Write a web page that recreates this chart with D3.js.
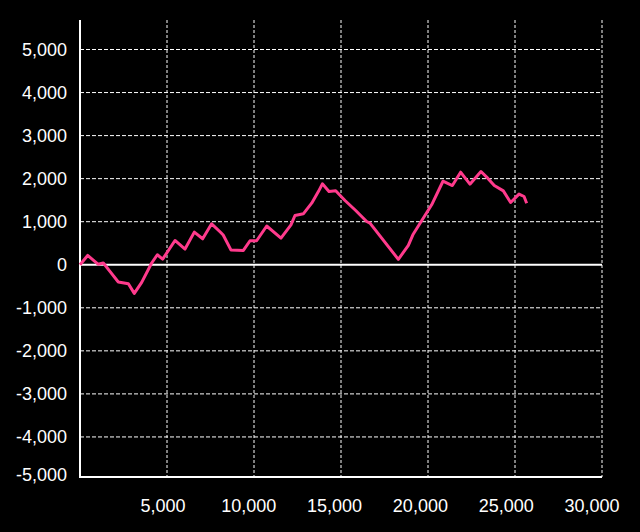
<!DOCTYPE html>
<meta charset="utf-8">
<style>
    body { margin: 0; background: #000; }
    svg { display: block; }
    text { font-family: "Liberation Sans", Arial, sans-serif; font-size: 18px; fill: #fff; }
</style>
<body>
<script src="https://d3js.org/d3.v7.min.js"></script>
<script>

var xValues = [0, 440, 1050, 1340, 1720, 2200, 2780, 3120, 3545, 4120, 4445, 4750, 5460, 6035, 6570, 7050,
               7565, 8060, 8230, 8680, 9390, 9770, 10150, 10730, 11550, 12125, 12355, 12835, 13315, 13700,
               13930, 14310, 14695, 15230, 15845, 16475, 16665, 18295, 18870, 19130, 20210, 20860, 21400,
               21875, 22410, 23045, 23430, 23810, 24330, 24750, 25230, 25520, 25670];
var yValues = [0, 216, 10, 40, -155, -400, -440, -665, -410, 40, 232, 130, 564, 364, 758, 603,
               951, 760, 690, 340, 332, 557, 557, 900, 620, 928, 1144, 1183, 1431, 1700,
               1880, 1700, 1717, 1492, 1260, 1005, 967, 125, 450, 696, 1392, 1940, 1840,
               2150, 1872, 2165, 2011, 1840, 1717, 1446, 1640, 1585, 1430];
var xTicks = [5000, 10000, 15000, 20000, 25000, 30000];
var yTicks = [5000, 4000, 3000, 2000, 1000, 0, -1000, -2000, -3000, -4000, -5000];

var width = 640, height = 532;
var plotLeft = 80, plotRight = 602, plotTop = 20, plotBottom = 477;

var svg = d3.select("body").append("svg")
    .attr("width", width)
    .attr("height", height);

svg.append("rect").attr("width", width).attr("height", height).attr("fill", "#000");

var x = d3.scaleLinear().domain([0, 30000]).range([plotLeft, plotRight]);
var y = d3.scaleLinear().domain([-5000, 5000]).range([480, 49.5]);
// tick labels sit a little left of their grid lines in the original
var xLab = d3.scaleLinear().domain([5000, 30000]).range([163, 592]);
var fmt = function(d) { return d3.format(",")(d).replace("\u2212", "-"); };

// vertical grid
svg.selectAll("line.vgrid")
    .data(xTicks)
  .enter().append("line")
    .attr("x1", function(d) { return x(d); })
    .attr("x2", function(d) { return x(d); })
    .attr("y1", plotTop)
    .attr("y2", plotBottom)
    .attr("stroke", "#fff")
    .attr("stroke-dasharray", "3,2");

// horizontal grid
svg.selectAll("line.hgrid")
    .data(yTicks.filter(function(d) { return d !== 0 && d !== -5000; }))
  .enter().append("line")
    .attr("x1", plotLeft)
    .attr("x2", plotRight)
    .attr("y1", function(d) { return y(d); })
    .attr("y2", function(d) { return y(d); })
    .attr("stroke", "#fff")
    .attr("stroke-dasharray", "4,2");

// zero line
svg.append("line")
    .attr("x1", plotLeft).attr("x2", plotRight)
    .attr("y1", y(0)).attr("y2", y(0))
    .attr("stroke", "#fff")
    .attr("stroke-width", 2);

// axes
svg.append("line")
    .attr("x1", plotLeft).attr("x2", plotLeft)
    .attr("y1", plotTop).attr("y2", plotBottom + 1)
    .attr("stroke", "#fff")
    .attr("stroke-width", 2);
svg.append("line")
    .attr("x1", plotLeft).attr("x2", plotRight)
    .attr("y1", plotBottom).attr("y2", plotBottom)
    .attr("stroke", "#fff")
    .attr("stroke-width", 2);

// y labels
svg.selectAll("text.ylab")
    .data(yTicks)
  .enter().append("text")
    .attr("x", 67)
    .attr("y", function(d) { return Math.min(y(d), 475); })
    .attr("dy", "0.35em")
    .attr("text-anchor", "end")
    .text(function(d) { return fmt(d); });

// x labels
svg.selectAll("text.xlab")
    .data(xTicks)
  .enter().append("text")
    .attr("x", function(d) { return xLab(d); })
    .attr("y", 506)
    .attr("dy", "0.35em")
    .attr("text-anchor", "middle")
    .text(function(d) { return fmt(d); });

// series
var line = d3.line()
    .x(function(d) { return x(d); })
    .y(function(d, i) { return y(yValues[i]); });

svg.append("path")
    .datum(xValues)
    .attr("d", line)
    .attr("fill", "none")
    .attr("stroke", "#ff3a8c")
    .attr("stroke-width", 3)
    .attr("stroke-linejoin", "round");

</script>
</body>
